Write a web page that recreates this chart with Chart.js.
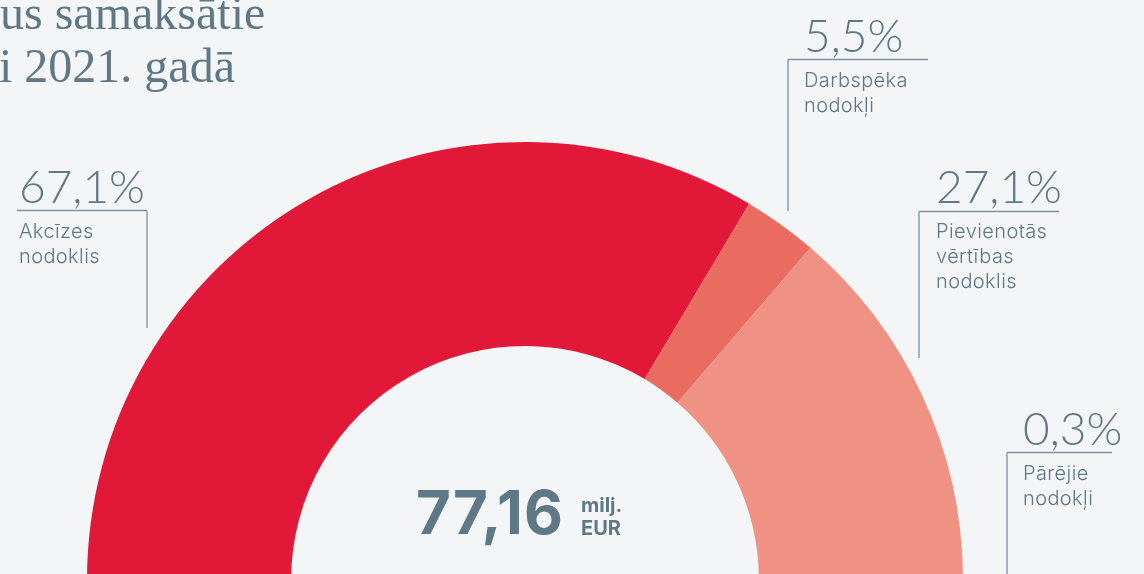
<!DOCTYPE html>
<html>
<head>
<meta charset="utf-8">
<script src="https://cdn.jsdelivr.net/npm/chart.js@4"></script>
<style>
  html, body { margin: 0; padding: 0; background: #f4f5f7; overflow: hidden; }
  #wrap { position: relative; width: 1144px; height: 580px; }
</style>
</head>
<body>
<div id="wrap"><canvas id="myChart" width="1144" height="580"></canvas></div>
<script>
// data
const categories = ["Akcīzes nodoklis", "Darbspēka nodokļi", "Pievienotās vērtības nodoklis", "Pārējie nodokļi"];
const shares = [67.1, 5.5, 27.1, 0.3];
const shareLabels = ["67,1%", "5,5%", "27,1%", "0,3%"];
const labelLines = [["Akcīzes", "nodoklis"], ["Darbspēka", "nodokļi"], ["Pievienotās", "vērtības", "nodoklis"], ["Pārējie", "nodokļi"]];
const totalValue = "77,16";
const totalUnit = ["milj.", "EUR"];
const titleLines = ["us samaksātie", "i 2021. gadā"];

const colors = ["#e11837", "#ea6b5f", "#f09283", "#f4b3a8"];
const textColor = "#5f7886";
const lineColor = "#7d929e";

// where each callout sits: text x, percent baseline, rule y, rule x range, leader bottom
const callouts = [
  { x: 19, pctY: 203, ruleY: 210.5, x0: 17, x1: 147, leadX: 147, leadEnd: 328 },
  { x: 804, pctY: 52, ruleY: 59.5, x0: 788, x1: 928, leadX: 788, leadEnd: 211 },
  { x: 936, pctY: 203, ruleY: 211.5, x0: 919, x1: 1059, leadX: 919, leadEnd: 358 },
  { x: 1023, pctY: 445, ruleY: 452.5, x0: 1007, x1: 1112, leadX: 1007, leadEnd: 580 }
];

const calloutPlugin = {
  id: "callouts",
  afterDraw(chart) {
    const ctx = chart.ctx;
    ctx.save();

    // title (cut off at the left edge like the original)
    ctx.fillStyle = textColor;
    ctx.font = "48px 'Liberation Serif'";
    ctx.textBaseline = "alphabetic";
    ctx.fillText(titleLines[0], 0, 29);
    ctx.fillText(titleLines[1], -1, 82);

    callouts.forEach((c, i) => {
      ctx.strokeStyle = lineColor;
      ctx.lineWidth = 1.3;
      ctx.beginPath();
      ctx.moveTo(c.x0, c.ruleY);
      ctx.lineTo(c.x1, c.ruleY);
      ctx.moveTo(c.leadX, c.ruleY);
      ctx.lineTo(c.leadX, c.leadEnd);
      ctx.stroke();

      ctx.fillStyle = textColor;
      ctx.textAlign = "left";
      ctx.letterSpacing = "0px";
      ctx.font = "300 46px Lato";
      ctx.fillText(shareLabels[i], c.x, c.pctY);

      ctx.font = "300 20px Inter";
      ctx.letterSpacing = "0.4px";
      labelLines[i].forEach((t, j) => {
        ctx.fillText(t, c.x, c.pctY + 35 + j * 25);
      });
    });

    // total in the middle
    ctx.fillStyle = textColor;
    ctx.font = "bold 60px Inter";
    ctx.letterSpacing = "1px";
    ctx.textAlign = "left";
    ctx.fillText(totalValue, 416, 534);
    ctx.letterSpacing = "0px";
    ctx.font = "bold 20px Inter";
    ctx.fillText(totalUnit[0], 581, 512);
    ctx.fillText(totalUnit[1], 581, 535);

    ctx.restore();
  }
};

const ctx = document.getElementById("myChart").getContext("2d");
const myChart = new Chart(ctx, {
  type: "doughnut",
  data: {
    labels: categories,
    datasets: [{
      data: shares,
      backgroundColor: colors,
      borderWidth: 0
    }]
  },
  options: {
    responsive: false,
    animation: false,
    rotation: -90,
    circumference: 180,
    cutout: "53.4%",
    layout: { padding: { left: 87, right: 181, top: 142, bottom: 0 } },
    plugins: {
      legend: { display: false },
      tooltip: { enabled: false }
    }
  },
  plugins: [calloutPlugin]
});
</script>
</body>
</html>
